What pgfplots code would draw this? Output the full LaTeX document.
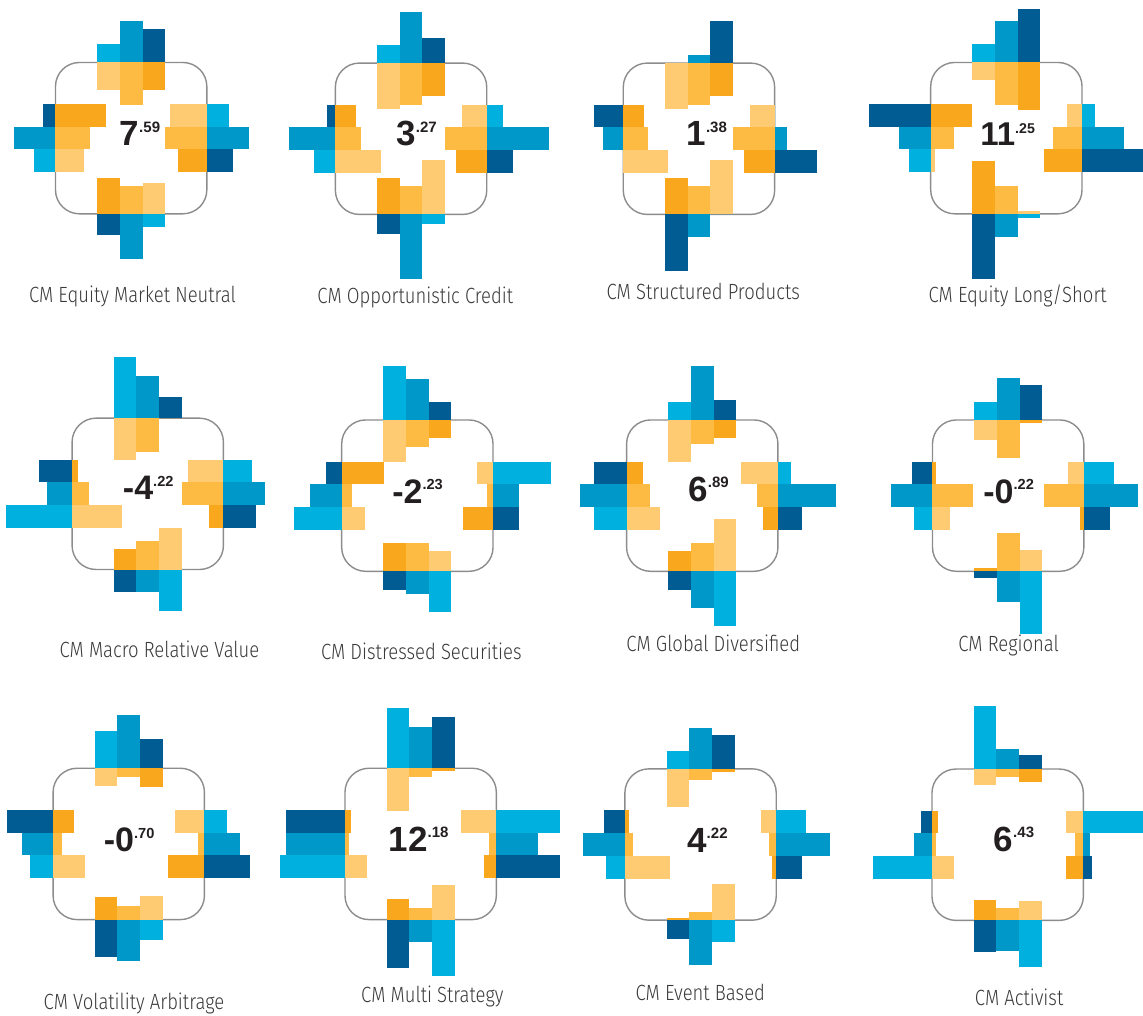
\documentclass[border=0pt]{standalone}
\usepackage{pgfplots}
\pgfplotsset{compat=1.18}
\usepackage{graphicx}
\usepackage{fontspec}
\setmainfont{Liberation Sans}
\newfontfamily\numfont{Liberation Sans}
\newfontfamily\lblfont{Fira Sans}[UprightFont=* Light, FakeStretch=0.84]

\definecolor{bL}{HTML}{00B0DE}
\definecolor{bM}{HTML}{0098C8}
\definecolor{bD}{HTML}{005C93}
\definecolor{oD}{HTML}{F9A81E}
\definecolor{oM}{HTML}{FDBB44}
\definecolor{oL}{HTML}{FECB73}
\definecolor{rectc}{HTML}{8C8C8C}
\definecolor{numc}{HTML}{231F20}
\definecolor{lblc}{HTML}{3A3A3A}

\def\hh{75.7}
\def\ww{22.7}

% one bar = one filled rectangle plotted in axis units
\newcommand\rbar[5]{%
  \pgfmathsetmacro\pA{#1}\pgfmathsetmacro\pB{#2}%
  \pgfmathsetmacro\pC{#3}\pgfmathsetmacro\pD{#4}%
  \edef\tmp{\noexpand\addplot[fill=#5,draw=none,forget plot] coordinates {(\pA,\pB) (\pC,\pB) (\pC,\pD) (\pA,\pD)};}%
  \tmp}

\newcommand\panelbox[2]{%
  \def\cx{#1}\def\cy{#2}%
  \pgfmathsetmacro\pA{#1-\hh}\pgfmathsetmacro\pB{#2-\hh}%
  \pgfmathsetmacro\pC{#1+\hh}\pgfmathsetmacro\pD{#2+\hh}%
  \edef\tmp{\noexpand\addplot[draw=rectc,line width=0.7pt,rounded corners=12pt,forget plot] coordinates {(#1,\pB) (\pC,\pB) (\pC,\pD) (\pA,\pD) (\pA,\pB) (#1,\pB)};}%
  \tmp}

% args: blue light, mid, dark ; orange light, mid, dark
\newcommand\topside[6]{%
  \pgfmathsetmacro\ybase{\cy-\hh}%
  \rbar{\cx-1.5*\ww}{\ybase-#1}{\cx-0.5*\ww}{\ybase}{bL}%
  \rbar{\cx-0.5*\ww}{\ybase-#2}{\cx+0.5*\ww}{\ybase}{bM}%
  \rbar{\cx+0.5*\ww}{\ybase-#3}{\cx+1.5*\ww}{\ybase}{bD}%
  \rbar{\cx-1.5*\ww}{\ybase}{\cx-0.5*\ww}{\ybase+#4}{oL}%
  \rbar{\cx-0.5*\ww}{\ybase}{\cx+0.5*\ww}{\ybase+#5}{oM}%
  \rbar{\cx+0.5*\ww}{\ybase}{\cx+1.5*\ww}{\ybase+#6}{oD}}

\newcommand\rightside[6]{%
  \pgfmathsetmacro\xbase{\cx+\hh}%
  \rbar{\xbase}{\cy-1.5*\ww}{\xbase+#1}{\cy-0.5*\ww}{bL}%
  \rbar{\xbase}{\cy-0.5*\ww}{\xbase+#2}{\cy+0.5*\ww}{bM}%
  \rbar{\xbase}{\cy+0.5*\ww}{\xbase+#3}{\cy+1.5*\ww}{bD}%
  \rbar{\xbase-#4}{\cy-1.5*\ww}{\xbase}{\cy-0.5*\ww}{oL}%
  \rbar{\xbase-#5}{\cy-0.5*\ww}{\xbase}{\cy+0.5*\ww}{oM}%
  \rbar{\xbase-#6}{\cy+0.5*\ww}{\xbase}{\cy+1.5*\ww}{oD}}

\newcommand\bottomside[6]{%
  \pgfmathsetmacro\ybase{\cy+\hh}%
  \rbar{\cx+0.5*\ww}{\ybase}{\cx+1.5*\ww}{\ybase+#1}{bL}%
  \rbar{\cx-0.5*\ww}{\ybase}{\cx+0.5*\ww}{\ybase+#2}{bM}%
  \rbar{\cx-1.5*\ww}{\ybase}{\cx-0.5*\ww}{\ybase+#3}{bD}%
  \rbar{\cx+0.5*\ww}{\ybase-#4}{\cx+1.5*\ww}{\ybase}{oL}%
  \rbar{\cx-0.5*\ww}{\ybase-#5}{\cx+0.5*\ww}{\ybase}{oM}%
  \rbar{\cx-1.5*\ww}{\ybase-#6}{\cx-0.5*\ww}{\ybase}{oD}}

\newcommand\leftside[6]{%
  \pgfmathsetmacro\xbase{\cx-\hh}%
  \rbar{\xbase-#1}{\cy+0.5*\ww}{\xbase}{\cy+1.5*\ww}{bL}%
  \rbar{\xbase-#2}{\cy-0.5*\ww}{\xbase}{\cy+0.5*\ww}{bM}%
  \rbar{\xbase-#3}{\cy-1.5*\ww}{\xbase}{\cy-0.5*\ww}{bD}%
  \rbar{\xbase}{\cy+0.5*\ww}{\xbase+#4}{\cy+1.5*\ww}{oL}%
  \rbar{\xbase}{\cy-0.5*\ww}{\xbase+#5}{\cy+0.5*\ww}{oM}%
  \rbar{\xbase}{\cy-1.5*\ww}{\xbase+#6}{\cy-0.5*\ww}{oD}}

% x, y(baseline), size(pt), integer part, decimals
\newcommand\bignum[5]{%
  \node[anchor=base,inner sep=0pt,text=numc] at (axis cs:#1,#2)
    {\numfont\bfseries\fontsize{#3}{#3}\selectfont #4\raisebox{0.39em}{\scalebox{0.43}{.#5}}};}
\newcommand\plabel[3]{%
  \node[anchor=base,inner sep=0pt,text=lblc] at (axis cs:#1,#2)
    {\lblfont\fontsize{11}{13}\selectfont #3};}

\begin{document}
\begin{tikzpicture}
\begin{axis}[
  width=571.5pt, height=508pt, scale only axis,
  xmin=0, xmax=1143, ymin=0, ymax=1016, y dir=reverse,
  hide axis, clip=false]

\path (axis cs:0,0) rectangle (axis cs:1143,1016);

% ---------- CM Equity Market Neutral
\panelbox{131.2}{138.2}
\topside{18.7}{41.3}{33.3}{27.7}{42.7}{27.7}
\rightside{22.3}{42}{26}{37.3}{41.7}{28.7}
\bottomside{13}{45.3}{21}{31}{28}{36}
\leftside{21.7}{41.7}{12.3}{28.3}{34.3}{50.3}
% ---------- CM Opportunistic Credit
\panelbox{411.2}{138.8}
\topside{18.3}{51.3}{25.3}{46}{42.3}{33.3}
\rightside{16.7}{62}{26}{24.7}{41.3}{30.7}
\bottomside{10}{65}{19.7}{54.3}{28.3}{36.3}
\leftside{21.7}{46.7}{8.7}{45.3}{25.3}{20.3}
% ---------- CM Structured Products
\panelbox{699.2}{138.8}
\topside{0.5}{7.7}{41.7}{46}{42.3}{33.3}
\rightside{0}{12.7}{42.7}{25}{41.7}{30.7}
\bottomside{0}{23}{56.3}{54.3}{28.3}{36.3}
\leftside{0}{20}{29.3}{44.3}{24.3}{20.7}
% ---------- CM Equity Long/Short
\panelbox{1006.7}{138.2}
\topside{18.7}{41.7}{53.3}{17.7}{42.7}{47.7}
\rightside{12.7}{42}{61}{15}{29}{38}
\bottomside{4}{23}{64.7}{3.3}{28}{53}
\leftside{21.7}{31.3}{61.3}{4.7}{23.7}{41.7}
% ---------- CM Macro Relative Value
\panelbox{147.8}{494}
\topside{60.7}{41.7}{20.7}{42.3}{33.7}{0}
\rightside{28.3}{41.7}{32.7}{35.7}{41.3}{14.3}
\bottomside{42}{22.7}{22.7}{41.3}{28.7}{20.7}
\leftside{65.7}{25.3}{33}{50.3}{16.7}{5.7}
% ---------- CM Distressed Securities
\panelbox{417.5}{495.8}
\topside{54.3}{41}{18}{41.7}{26.7}{17.7}
\rightside{58.3}{25.7}{25.7}{16}{6}{30}
\bottomside{41}{22.3}{18.7}{20.7}{28.3}{28.3}
\leftside{47.3}{31.7}{15.3}{23.3}{10}{42}
% ---------- CM Global Diversified
\panelbox{702.5}{495.8}
\topside{18.3}{54}{20}{41.7}{24}{17.7}
\rightside{12.7}{57.7}{24.3}{37.3}{21.3}{15.3}
\bottomside{55}{37}{19}{52.7}{28.7}{20.7}
\leftside{32.7}{46.7}{32.7}{33.3}{23.3}{16.3}
% ---------- CM Regional
\panelbox{1008.5}{495.8}
\topside{18.3}{41.7}{34.7}{20}{38}{2.7}
\rightside{29.7}{54}{26}{16}{40}{4}
\bottomside{62.3}{30.7}{6.3}{21.7}{38.7}{3}
\leftside{18.7}{42}{20.7}{18}{40.7}{3.7}
% ---------- CM Volatility Arbitrage
\panelbox{128.8}{844.2}
\topside{37.3}{53.3}{29.3}{17.3}{8.3}{18.3}
\rightside{22.3}{35.7}{45.7}{29.3}{6.3}{36.3}
\bottomside{20}{41.7}{37.3}{23.3}{14}{23}
\leftside{23}{31.3}{46.3}{31.7}{9.3}{20.7}
% ---------- CM Multi Strategy
\panelbox{420.8}{844.2}
\topside{60.7}{41.7}{51.7}{42.3}{8.3}{2.7}
\rightside{63.7}{41.7}{63.7}{35.3}{7.3}{12.3}
\bottomside{56}{22.3}{48}{35}{12}{21}
\leftside{65.3}{58.7}{58.7}{21.7}{4.3}{5.7}
% ---------- CM Event Based
\panelbox{700.8}{844.8}
\topside{18.3}{41.3}{34.3}{38.3}{11.3}{3.3}
\rightside{29.7}{53.7}{25.7}{15.3}{7.3}{4.3}
\bottomside{22.3}{45.3}{19}{36.7}{8.3}{2.3}
\leftside{19}{42.3}{21}{44.7}{7.7}{3.7}
% ---------- CM Activist
\panelbox{1008}{845}
\topside{63.3}{20.3}{14.3}{15.7}{8.3}{12.7}
\rightside{59.3}{6.3}{8.3}{17.3}{8}{17.3}
\bottomside{47}{31}{32}{19.7}{12.7}{20.7}
\leftside{58.7}{18.3}{11.3}{21.7}{4}{5.7}

% ---------- central figures
\bignum{140}{145.7}{17.5}{7}{59}
\bignum{416.7}{145.7}{17.5}{3}{27}
\bignum{707}{145.7}{17.5}{1}{38}
\bignum{1008}{146}{16.5}{11}{25}
\bignum{148.3}{500}{17}{-4}{22}
\bignum{417.7}{503.3}{17}{-2}{23}
\bignum{708.8}{501.7}{17.5}{6}{89}
\bignum{1009}{503.3}{17}{-0}{22}
\bignum{129.2}{851.7}{17}{-0}{70}
\bignum{418.8}{851.7}{17.5}{12}{18}
\bignum{707.7}{852.3}{17.5}{4}{22}
\bignum{1014.3}{851.7}{17.5}{6}{43}

% ---------- panel titles
\plabel{132.5}{303}{CM Equity Market Neutral}
\plabel{415.5}{304}{CM Opportunistic Credit}
\plabel{703.5}{300}{CM Structured Products}
\plabel{1018}{303}{CM Equity Long/Short}
\plabel{159.5}{658}{CM Macro Relative Value}
\plabel{421.5}{660}{CM Distressed Securities}
\plabel{713.5}{652}{CM Global Diversified}
\plabel{1009}{652}{CM Regional}
\plabel{134}{1010}{CM Volatility Arbitrage}
\plabel{432.5}{1003}{CM Multi Strategy}
\plabel{700.5}{1001}{CM Event Based}
\plabel{1019.5}{1006}{CM Activist}
\end{axis}
\end{tikzpicture}
\end{document}
